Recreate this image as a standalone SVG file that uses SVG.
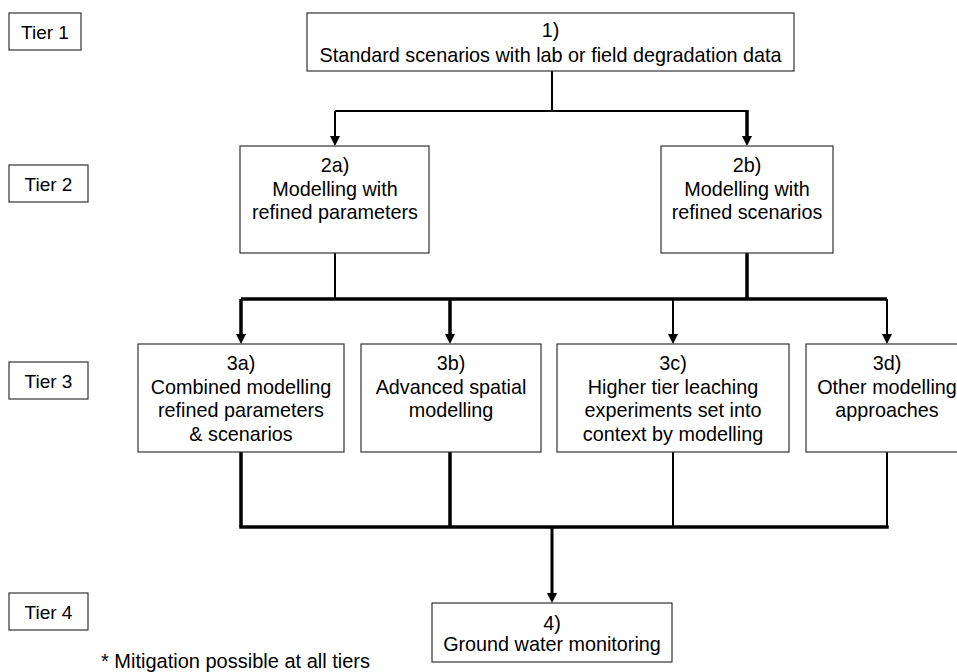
<svg xmlns="http://www.w3.org/2000/svg" xmlns:xlink="http://www.w3.org/1999/xlink" width="957" height="672" viewBox="0 0 957 672">
<style>
.box{fill:#fff;stroke:#333;stroke-width:1.2}
.t{font-family:"Liberation Sans",Arial,sans-serif;font-size:19.8px;fill:#000;text-anchor:middle}
.tier{font-family:"Liberation Sans",Arial,sans-serif;font-size:19px;fill:#000;text-anchor:middle}
.note{font-family:"Liberation Sans",Arial,sans-serif;font-size:20px;fill:#000}
.thin{fill:none;stroke:#000;stroke-width:2}
.thick{fill:none;stroke:#000;stroke-width:3.5}
.ah{fill:#000}
</style>
<defs>
<path id="ah" class="ah" d="M-5,-10 L5,-10 L0,0 Z"/>
</defs>
<rect width="957" height="672" fill="#fff"/>

<g id="tier1"><rect class="box" x="9" y="13" width="72" height="37"/><text class="tier" x="45" y="39">Tier 1</text></g>
<g id="tier2"><rect class="box" x="9" y="165" width="79" height="37"/><text class="tier" x="48.5" y="191">Tier 2</text></g>
<g id="tier3"><rect class="box" x="9" y="362" width="79" height="37"/><text class="tier" x="48.5" y="388">Tier 3</text></g>
<g id="tier4"><rect class="box" x="9" y="593" width="79" height="37"/><text class="tier" x="48.5" y="619">Tier 4</text></g>

<g id="connectors">
<path class="thin" d="M552,71 V111 M335,111 H747 M335,111 V137"/>
<path class="thick" d="M747,110 V137"/>
<path class="thin" d="M335,253 V299"/>
<path class="thick" d="M747,253 V299"/>
<path class="thick" d="M241,299 H887"/>
<path class="thick" d="M241,299 V335 M450,299 V335"/>
<path class="thin" d="M673,299 V335 M887,299 V335"/>
<path class="thick" d="M241,452 V527 M450,452 V527"/>
<path class="thin" d="M673,452 V527 M887,452 V527"/>
<path class="thick" d="M239.25,527 H888.75"/>
<path class="thick" style="stroke-width:3" d="M552,527 V594"/>
<use xlink:href="#ah" x="335" y="146"/>
<use xlink:href="#ah" x="747" y="146"/>
<use xlink:href="#ah" x="241" y="344"/>
<use xlink:href="#ah" x="450" y="344"/>
<use xlink:href="#ah" x="673" y="344"/>
<use xlink:href="#ah" x="887" y="344"/>
<use xlink:href="#ah" x="552" y="603"/>
</g>

<g id="n1"><rect class="box" x="307" y="13" width="487" height="58"/>
<text class="t" x="550.5" y="37">1)</text>
<text class="t" x="550.5" y="62">Standard scenarios with lab or field degradation data</text></g>

<g id="n2a"><rect class="box" x="240" y="146" width="189" height="107"/>
<text class="t" x="335" y="172">2a)</text>
<text class="t" x="335" y="195.5">Modelling with</text>
<text class="t" x="335" y="219">refined parameters</text></g>

<g id="n2b"><rect class="box" x="661" y="146" width="172" height="107"/>
<text class="t" x="747" y="172">2b)</text>
<text class="t" x="747" y="195.5">Modelling with</text>
<text class="t" x="747" y="219">refined scenarios</text></g>

<g id="n3a"><rect class="box" x="138" y="344" width="206" height="108"/>
<text class="t" x="241" y="370">3a)</text>
<text class="t" x="241" y="393.5">Combined modelling</text>
<text class="t" x="241" y="417">refined parameters</text>
<text class="t" x="241" y="440.5">&amp; scenarios</text></g>

<g id="n3b"><rect class="box" x="361" y="344" width="180" height="108"/>
<text class="t" x="451" y="370">3b)</text>
<text class="t" x="451" y="393.5">Advanced spatial</text>
<text class="t" x="451" y="417">modelling</text></g>

<g id="n3c"><rect class="box" x="557" y="344" width="232" height="108"/>
<text class="t" x="673" y="370">3c)</text>
<text class="t" x="673" y="393.5">Higher tier leaching</text>
<text class="t" x="673" y="417">experiments set into</text>
<text class="t" x="673" y="440.5">context by modelling</text></g>

<g id="n3d"><rect class="box" x="806" y="344" width="162" height="108"/>
<text class="t" x="887" y="370">3d)</text>
<text class="t" x="887" y="393.5">Other modelling</text>
<text class="t" x="887" y="417">approaches</text></g>

<g id="n4"><rect class="box" x="432" y="603" width="240" height="59"/>
<text class="t" x="552" y="630">4)</text>
<text class="t" x="552" y="651">Ground water monitoring</text></g>

<text class="note" x="101" y="668">* Mitigation possible at all tiers</text>
</svg>
